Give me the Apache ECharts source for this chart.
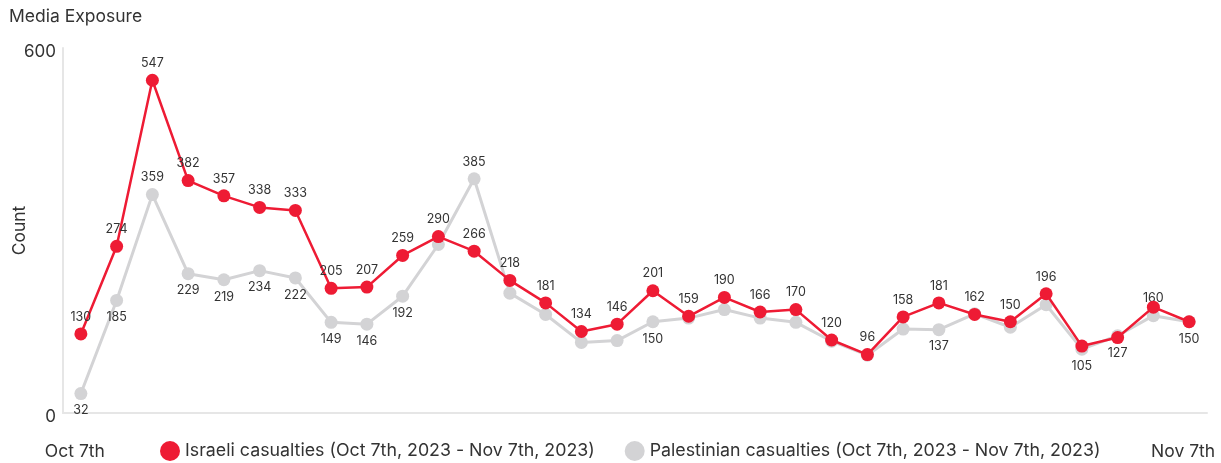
<!DOCTYPE html>
<html>
<head>
<meta charset="utf-8">
<script src="https://cdn.jsdelivr.net/npm/echarts@6/dist/echarts.min.js"></script>
<style>
  html, body { margin: 0; padding: 0; background: #fff; }
  #chart { width: 1221px; height: 463px; }
</style>
</head>
<body>
<div id="chart"></div>
<script>
const days = [
  "Oct 7th", "Oct 8th", "Oct 9th", "Oct 10th", "Oct 11th", "Oct 12th", "Oct 13th", "Oct 14th",
  "Oct 15th", "Oct 16th", "Oct 17th", "Oct 18th", "Oct 19th", "Oct 20th", "Oct 21st", "Oct 22nd",
  "Oct 23rd", "Oct 24th", "Oct 25th", "Oct 26th", "Oct 27th", "Oct 28th", "Oct 29th", "Oct 30th",
  "Oct 31st", "Nov 1st", "Nov 2nd", "Nov 3rd", "Nov 4th", "Nov 5th", "Nov 6th", "Nov 7th"
];
const israeli = [130, 274, 547, 382, 357, 338, 333, 205, 207, 259, 290, 266, 218, 181, 134, 146,
  201, 159, 190, 166, 170, 120, 96, 158, 181, 162, 150, 196, 110, 124, 174, 150];
const palestinian = [32, 185, 359, 229, 219, 234, 222, 149, 146, 192, 277, 385, 197, 162, 116, 119,
  150, 156, 170, 156, 149, 118, 95, 138, 137, 163, 141, 178, 105, 127, 160, 150];
const yTicks = [0, 600];

// which labels the original shows (others are hidden by overlap)
const redLabelCount = 28;
const greyTop = [2, 11, 30];
const greyBottom = [0, 1, 3, 4, 5, 6, 7, 8, 9, 16, 24, 28, 29, 31];

const FONT = "Inter";
const RED = "#ee1b34";
const GREY = "#d3d3d5";

const chart = echarts.init(document.getElementById("chart"));

const redData = israeli.map((v, i) => ({
  value: v,
  label: { show: i < redLabelCount, position: "top" }
}));
const greyData = palestinian.map((v, i) => {
  let pos = null;
  if (greyTop.includes(i)) pos = "top";
  if (greyBottom.includes(i)) pos = "bottom";
  return { value: v, label: { show: pos !== null, position: pos || "top" } };
});

const labelStyle = {
  color: "#333",
  fontFamily: FONT,
  fontSize: 12.5,
  distance: 4
};

chart.setOption({
  animation: false,
  title: {
    text: "Media Exposure",
    left: 4,
    top: 3,
    textStyle: { fontFamily: FONT, fontSize: 17.5, fontWeight: "normal", color: "#333" }
  },
  legend: {
    left: 155,
    top: 436,
    icon: "circle",
    itemWidth: 20,
    itemHeight: 20,
    itemGap: 30,
    textStyle: { fontFamily: FONT, fontSize: 17.8, color: "#333" },
    data: [
      "Israeli casualties (Oct 7th, 2023 - Nov 7th, 2023)",
      "Palestinian casualties (Oct 7th, 2023 - Nov 7th, 2023)"
    ]
  },
  grid: { left: 63, right: 14, top: 48, bottom: 50, outerBoundsMode: "none", containLabel: false },
  xAxis: {
    type: "category",
    data: days,
    axisLine: { lineStyle: { color: "#e6e6e6", width: 2 } },
    axisTick: { show: false },
    axisLabel: {
      interval: (i) => i === 0 || i === days.length - 1,
      margin: 30,
      padding: [0, 12, 0, 0],
      color: "#333",
      fontFamily: FONT,
      fontSize: 17.5
    }
  },
  yAxis: {
    type: "value",
    min: yTicks[0],
    max: yTicks[1],
    interval: yTicks[1] - yTicks[0],
    name: "Count",
    nameLocation: "middle",
    nameGap: 34,
    nameMoveOverlap: false,
    nameTextStyle: { fontFamily: FONT, fontSize: 17.5, color: "#333" },
    axisLine: { show: true, lineStyle: { color: "#e6e6e6", width: 2 } },
    axisTick: { show: false },
    splitLine: { show: false },
    axisLabel: {
      color: "#333", fontFamily: FONT, fontSize: 17, margin: 7,
      verticalAlign: "top", lineHeight: 8
    }
  },
  series: [
    {
      name: "Israeli casualties (Oct 7th, 2023 - Nov 7th, 2023)",
      type: "line",
      z: 3,
      data: redData,
      symbol: "circle",
      symbolSize: 13,
      itemStyle: { color: RED },
      lineStyle: { color: RED, width: 2.5 },
      label: labelStyle
    },
    {
      name: "Palestinian casualties (Oct 7th, 2023 - Nov 7th, 2023)",
      type: "line",
      z: 2,
      data: greyData,
      symbol: "circle",
      symbolSize: 13,
      itemStyle: { color: GREY },
      lineStyle: { color: GREY, width: 3 },
      label: labelStyle
    }
  ]
});

window.addEventListener("resize", () => chart.resize());
</script>
</body>
</html>
